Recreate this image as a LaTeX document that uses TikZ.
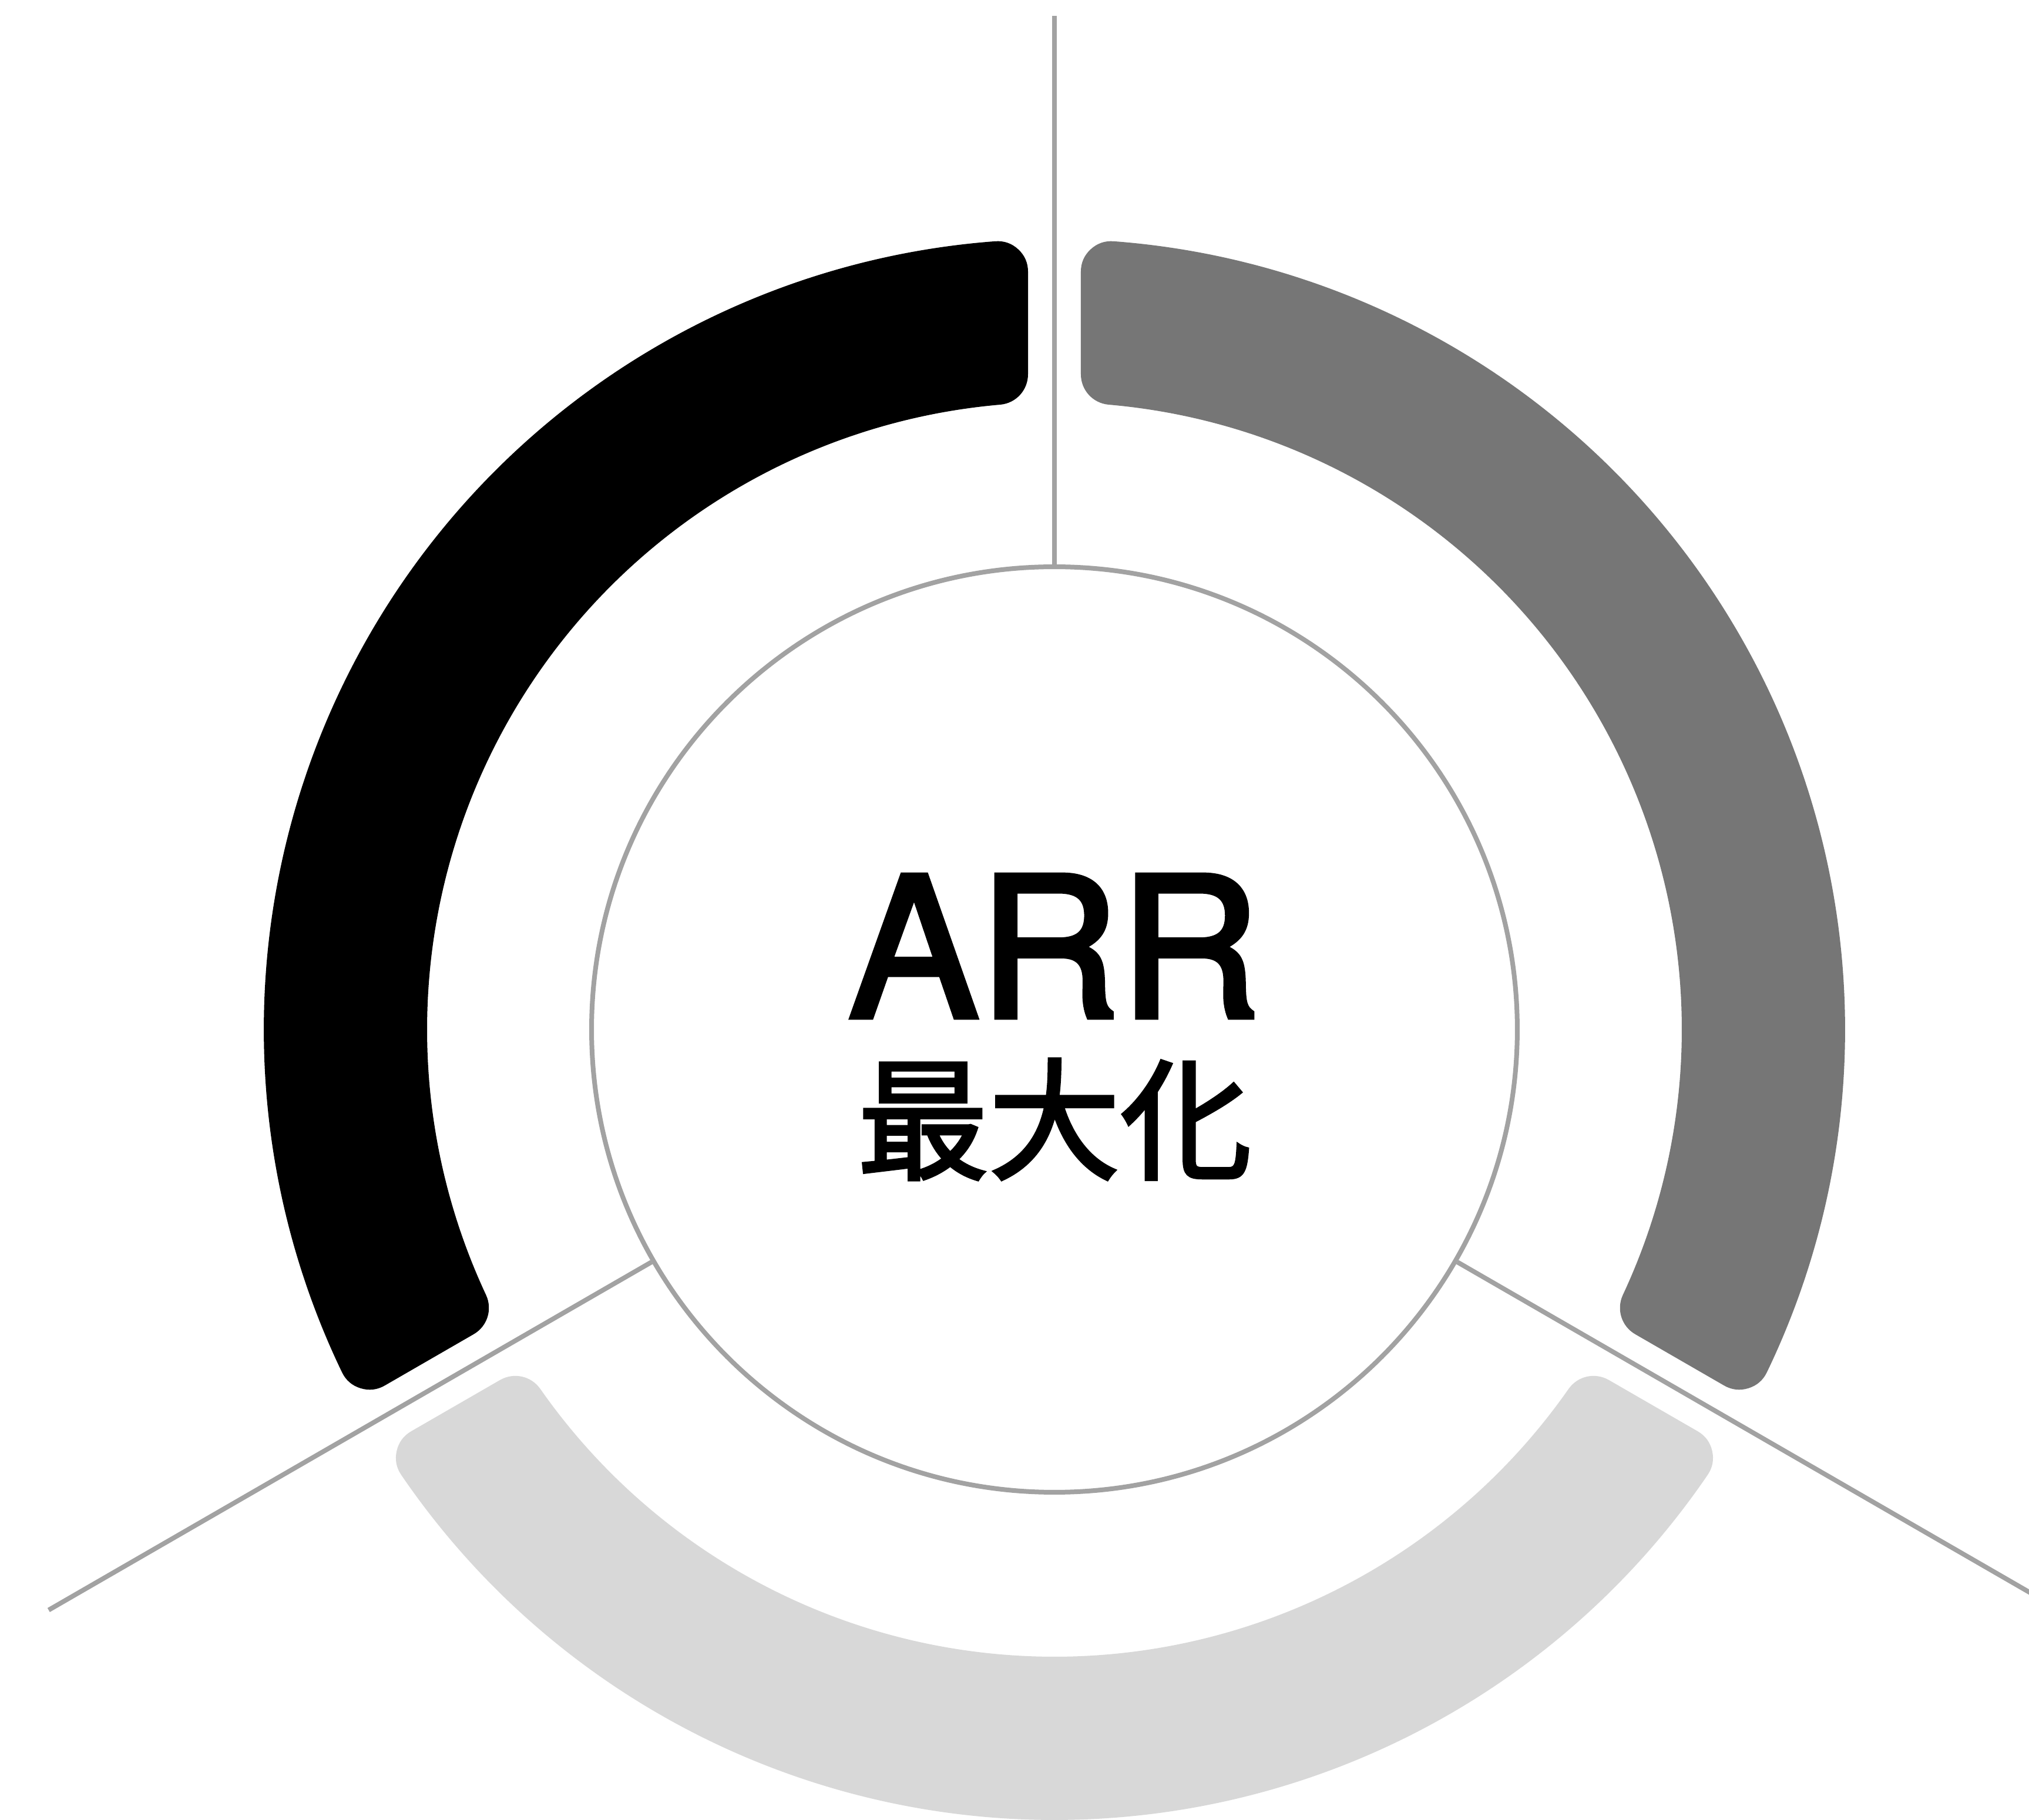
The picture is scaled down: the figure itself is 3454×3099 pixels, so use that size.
\documentclass[tikz,border=0pt]{standalone}
\usepackage{fontspec}
\setmainfont{TeX Gyre Heros}
\newfontfamily\arrfont[FakeBold=2.6]{TeX Gyre Heros}
\newfontfamily\cjk[FakeBold=2.4]{Noto Sans CJK JP}
\definecolor{segblack}{HTML}{000000}
\definecolor{segdark}{HTML}{767676}
\definecolor{seglight}{HTML}{D8D8D8}
\definecolor{linegray}{HTML}{A2A2A2}
\tikzset{
  thinline/.style={draw=linegray, line width=0.8pt},
  segshape/.style={fill=#1, draw=#1, line width=10.4pt, line join=round}
}
\newcommand\ringseg[3]{%
  \path[segshape=#3]
    ({#1+\ao}:\Ro) arc[start angle={#1+\ao}, end angle={#2-\ao}, radius=\Ro]
    -- ({#2-\ai}:\Ri) arc[start angle={#2-\ai}, end angle={#1+\ai}, radius=\Ri] -- cycle;}
\begin{document}
\begin{tikzpicture}[x=0.1pt,y=0.1pt]
  \fill[white] (-1795,-1346) rectangle (1659,1753);
  \useasboundingbox (-1795,-1346) rectangle (1659,1753);
  \def\Ro{1294}\def\Ri{1120}\def\dd{97}
  \pgfmathsetmacro\ao{asin(\dd/\Ro)}
  \pgfmathsetmacro\ai{asin(\dd/\Ri)}
  % ring segments
  \ringseg{90}{210}{segblack}
  \ringseg{-30}{90}{segdark}
  \ringseg{210}{330}{seglight}
  % hub circle
  \node[circle, thinline, minimum size=157.6pt, inner sep=0pt] (hub) at (0,0) {};
  \coordinate (topend) at (90:1726);
  \coordinate (leftend) at (210:1977);
  \coordinate (rightend) at (330:1977);
  \draw[thinline] (hub.90) -- (topend);
  \draw[thinline] (hub.210) -- (leftend);
  \draw[thinline] (hub.330) -- (rightend);
  % texts
  \node[anchor=base, inner sep=0pt] (arr) at (0,21) {\arrfont\fontsize{33.2pt}{40pt}\selectfont ARR};
  \node[anchor=base, inner sep=0pt] (kanji) at (0,-238) {\cjk\fontsize{22.4pt}{26pt}\selectfont 最大化};
\end{tikzpicture}
\end{document}
